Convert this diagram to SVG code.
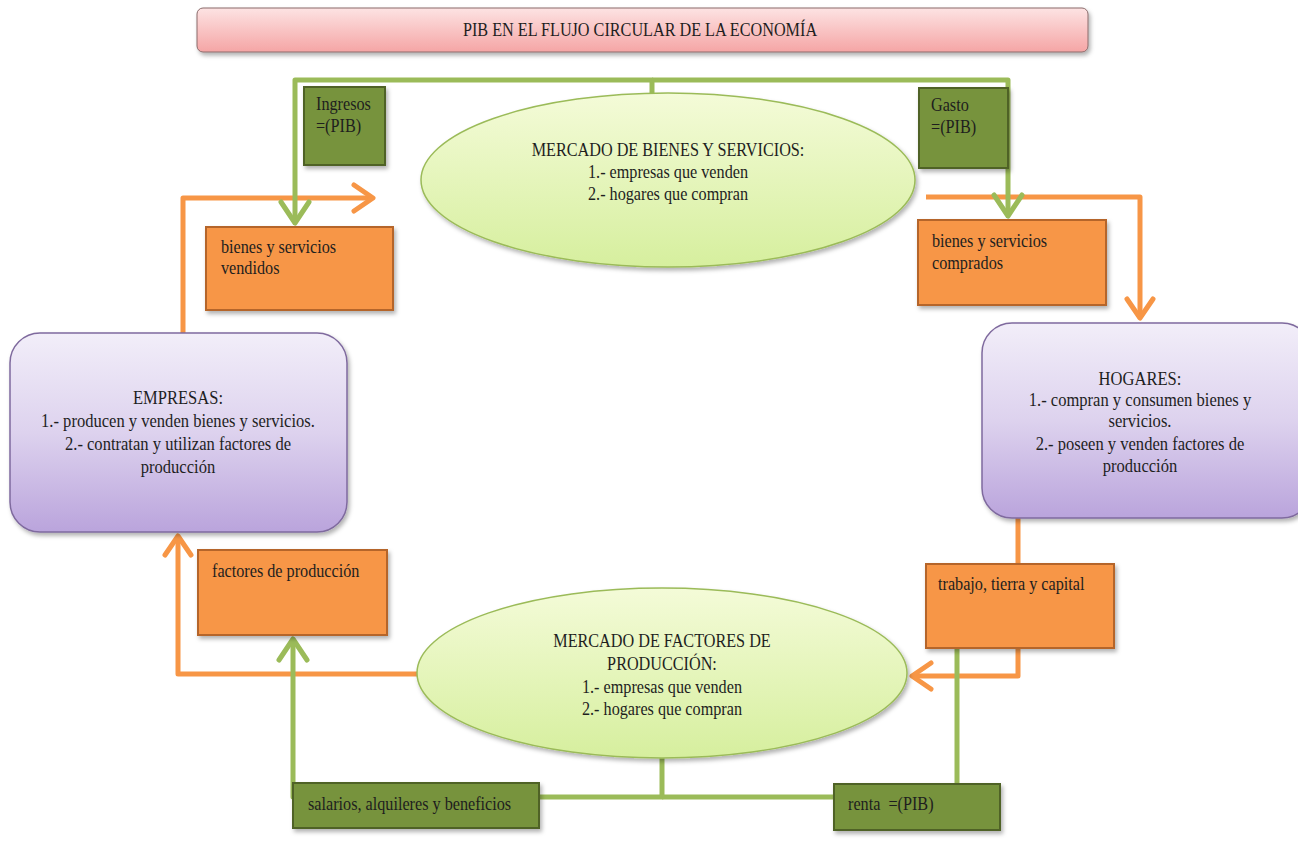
<svg xmlns="http://www.w3.org/2000/svg" width="1298" height="844" viewBox="0 0 1298 844">
<style>
text{font-family:"Liberation Serif","Times New Roman",serif;fill:#1e1e1e;font-size:18px}
.c{text-anchor:middle}
.lo{fill:none;stroke:#f79646;stroke-width:5;stroke-linejoin:round}
.lg{fill:none;stroke:#9bbb59;stroke-width:5;stroke-linejoin:round}
.bo{fill:#f79646;stroke:#b5652a;stroke-width:2}
.bg{fill:#77933c;stroke:#4f6228;stroke-width:2}
.pu{fill:url(#gp);stroke:#7f6a9e;stroke-width:1.5}
.el{fill:url(#ge);stroke:#9bbb59;stroke-width:1.5}
</style>
<defs>
<linearGradient id="gt" x1="0" y1="0" x2="0" y2="1"><stop offset="0" stop-color="#fde3e3"/><stop offset="1" stop-color="#f5a5a5"/></linearGradient>
<linearGradient id="gp" x1="0" y1="0" x2="0" y2="1"><stop offset="0" stop-color="#f2eef9"/><stop offset="0.5" stop-color="#ddd2ee"/><stop offset="1" stop-color="#baa4dc"/></linearGradient>
<linearGradient id="ge" x1="0" y1="0" x2="0" y2="1"><stop offset="0" stop-color="#f4fbd8"/><stop offset="1" stop-color="#d6ef9e"/></linearGradient>
<filter id="sh" x="-10%" y="-10%" width="130%" height="140%"><feDropShadow dx="2" dy="3" stdDeviation="2" flood-color="#000" flood-opacity="0.3"/></filter>
<marker id="ao" markerUnits="userSpaceOnUse" viewBox="-26 -18 30 36" markerWidth="30" markerHeight="36" refX="0" refY="0" orient="auto"><path d="M-19,-13 L0,0 L-19,13" fill="none" stroke="#f79646" stroke-width="5" stroke-linecap="round" stroke-linejoin="round"/></marker>
<marker id="ag" markerUnits="userSpaceOnUse" viewBox="-28 -20 32 40" markerWidth="32" markerHeight="40" refX="0" refY="0" orient="auto"><path d="M-21,-14 L0,0 L-21,14" fill="none" stroke="#9bbb59" stroke-width="5" stroke-linecap="round" stroke-linejoin="round"/></marker>
</defs>

<g id="title">
<rect x="197" y="8" width="891" height="44" rx="6" fill="url(#gt)" stroke="#8a6a6a" stroke-width="1" filter="url(#sh)"/>
<g transform="matrix(0.9 0 0 1 64 0)"><text class="c" x="640" y="36" font-size="17.5">PIB EN EL FLUJO CIRCULAR DE LA ECONOMÍA</text></g>
</g>

<g id="connectors">
<path class="lo" d="M183,333 V198 H373" marker-end="url(#ao)"/>
<path class="lo" d="M926,197 H1140 V318" marker-end="url(#ao)"/>
<path class="lo" d="M1018,518 V676 H912" marker-end="url(#ao)"/>
<path class="lo" d="M417,674 H178 V536" marker-end="url(#ao)"/>
<path class="lg" d="M652,96 V80 H295 V223" marker-end="url(#ag)"/>
<path class="lg" d="M652,80 H1008 V216" marker-end="url(#ag)"/>
<path class="lg" d="M662,756 V797 H293 V639" marker-end="url(#ag)"/>
<path class="lg" d="M662,797 H840"/>
<path class="lg" d="M957,786 V646"/>
</g>

<g id="mercado-bienes">
<ellipse class="el" cx="668" cy="180" rx="247" ry="87" filter="url(#sh)"/>
<g transform="matrix(0.9 0 0 1 66.8 0)">
<text class="c" x="668" y="156">MERCADO DE BIENES Y SERVICIOS:</text>
<text class="c" x="668" y="178">1.- empresas que venden</text>
<text class="c" x="668" y="200">2.- hogares que compran</text>
</g>
</g>

<g id="ingresos">
<rect class="bg" x="304" y="87" width="81" height="78" filter="url(#sh)"/>
<g transform="matrix(0.9 0 0 1 31.6 0)">
<text x="316" y="110">Ingresos</text>
<text x="316" y="132">=(PIB)</text>
</g>
</g>

<g id="gasto">
<rect class="bg" x="919" y="88" width="89" height="80" filter="url(#sh)"/>
<g transform="matrix(0.9 0 0 1 93.1 0)">
<text x="931" y="111">Gasto</text>
<text x="931" y="133">=(PIB)</text>
</g>
</g>

<g id="vendidos">
<rect class="bo" x="206" y="227" width="187" height="83" filter="url(#sh)"/>
<g transform="matrix(0.9 0 0 1 22.1 0)">
<text x="221" y="253">bienes y servicios</text>
<text x="221" y="274">vendidos</text>
</g>
</g>

<g id="comprados">
<rect class="bo" x="918" y="220" width="188" height="85" filter="url(#sh)"/>
<g transform="matrix(0.9 0 0 1 93.2 0)">
<text x="932" y="247">bienes y servicios</text>
<text x="932" y="269">comprados</text>
</g>
</g>

<g id="empresas">
<rect class="pu" x="10" y="333" width="337" height="199" rx="30" filter="url(#sh)"/>
<g transform="matrix(0.92 0 0 1 14.24 0)">
<text class="c" x="178" y="404">EMPRESAS:</text>
<text class="c" x="178" y="427">1.- producen y venden bienes y servicios.</text>
<text class="c" x="178" y="450">2.- contratan y utilizan factores de</text>
<text class="c" x="178" y="473">producción</text>
</g>
</g>

<g id="hogares">
<rect class="pu" x="982" y="323" width="330" height="195" rx="30" filter="url(#sh)"/>
<g transform="matrix(0.92 0 0 1 91.2 0)">
<text class="c" x="1140" y="385">HOGARES:</text>
<text class="c" x="1140" y="406">1.- compran y consumen bienes y</text>
<text class="c" x="1140" y="427">servicios.</text>
<text class="c" x="1140" y="450">2.- poseen y venden factores de</text>
<text class="c" x="1140" y="472">producción</text>
</g>
</g>

<g id="factores">
<rect class="bo" x="198" y="550" width="189" height="85" filter="url(#sh)"/>
<g transform="matrix(0.9 0 0 1 21.2 0)">
<text x="212" y="577">factores de producción</text>
</g>
</g>

<g id="trabajo">
<rect class="bo" x="926" y="564" width="188" height="84" filter="url(#sh)"/>
<g transform="matrix(0.9 0 0 1 93.8 0)">
<text x="938" y="590">trabajo, tierra y capital</text>
</g>
</g>

<g id="mercado-factores">
<ellipse class="el" cx="662" cy="673" rx="245" ry="85" filter="url(#sh)"/>
<g transform="matrix(0.9 0 0 1 66.2 0)">
<text class="c" x="662" y="647">MERCADO DE FACTORES DE</text>
<text class="c" x="662" y="670">PRODUCCIÓN:</text>
<text class="c" x="662" y="693">1.- empresas que venden</text>
<text class="c" x="662" y="715">2.- hogares que compran</text>
</g>
</g>

<g id="salarios">
<rect class="bg" x="293" y="783" width="246" height="45" filter="url(#sh)"/>
<g transform="matrix(0.9 0 0 1 30.8 0)">
<text x="308" y="810">salarios, alquileres y beneficios</text>
</g>
</g>

<g id="renta">
<rect class="bg" x="834" y="784" width="166" height="46" filter="url(#sh)"/>
<g transform="matrix(0.9 0 0 1 84.8 0)">
<text x="848" y="810" xml:space="preserve">renta  =(PIB)</text>
</g>
</g>
</svg>
